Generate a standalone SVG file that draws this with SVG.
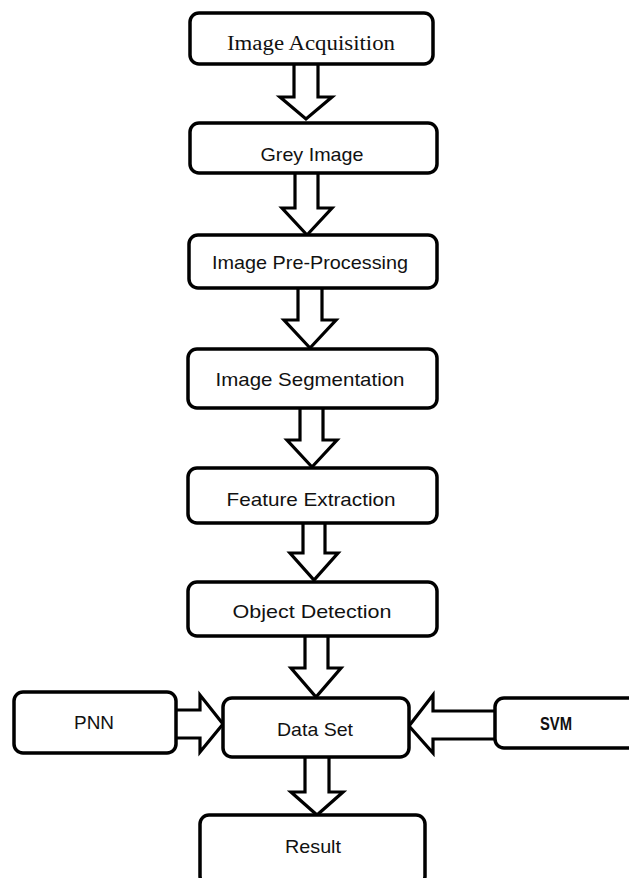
<svg xmlns="http://www.w3.org/2000/svg" width="629" height="878" viewBox="0 0 629 878">
<style>
.box{fill:#fff;stroke:#000;stroke-width:3.5}
.arr{fill:#fff;stroke:#000;stroke-width:3.2;stroke-linejoin:miter}
text{font-family:"Liberation Sans",Arial,sans-serif;font-size:19px;fill:#111;text-anchor:middle}
.serif{font-family:"Liberation Serif","Times New Roman",serif;font-size:20px}
.b{font-weight:bold}
</style>
<rect width="629" height="878" fill="#fff"/>
<g id="connectors">
<path class="arr" d="M294,64 V97 H280 L306,119 L332,97 H318 V64"/>
<path class="arr" d="M295,173 V208 H282 L307,235 L332,208 H318 V173"/>
<path class="arr" d="M298,288 V320 H284 L310,348 L336,320 H322 V288"/>
<path class="arr" d="M300,408 V440 H287 L312,467 L337,440 H323 V408"/>
<path class="arr" d="M303,523 V553 H290 L314,580 L338,553 H325 V523"/>
<path class="arr" d="M305,636 V668 H291 L316,697 L341,668 H328 V636"/>
<path class="arr" d="M305,757 V792 H291 L317,815 L343,792 H329 V757"/>
<path class="arr" d="M176,710 H200 V695 L223,724 L200,752 V738 H176"/>
<path class="arr" d="M495,711 H433 V695 L409,726 L433,753 V739 H495"/>
</g>
<g id="n1"><rect class="box" x="190" y="13" width="243" height="51" rx="9"/><text class="serif" x="311" y="50" textLength="168" lengthAdjust="spacingAndGlyphs">Image Acquisition</text></g>
<g id="n2"><rect class="box" x="190" y="123" width="247" height="50" rx="9"/><text x="312" y="161" textLength="103" lengthAdjust="spacingAndGlyphs">Grey Image</text></g>
<g id="n3"><rect class="box" x="189" y="235" width="248" height="53" rx="9"/><text x="310" y="269" textLength="196" lengthAdjust="spacingAndGlyphs">Image Pre-Processing</text></g>
<g id="n4"><rect class="box" x="188" y="349" width="249" height="59" rx="9"/><text x="310" y="386" textLength="189" lengthAdjust="spacingAndGlyphs">Image Segmentation</text></g>
<g id="n5"><rect class="box" x="188" y="468" width="249" height="55" rx="9"/><text x="311" y="506" textLength="169" lengthAdjust="spacingAndGlyphs">Feature Extraction</text></g>
<g id="n6"><rect class="box" x="188" y="582" width="249" height="54" rx="9"/><text x="312" y="618" textLength="159" lengthAdjust="spacingAndGlyphs">Object Detection</text></g>
<g id="n7"><rect class="box" x="14" y="692" width="162" height="61" rx="9"/><text x="94" y="729" textLength="40" lengthAdjust="spacingAndGlyphs">PNN</text></g>
<g id="n8"><rect class="box" x="223" y="698" width="186" height="59" rx="9"/><text x="315" y="736" textLength="76" lengthAdjust="spacingAndGlyphs">Data Set</text></g>
<g id="n9"><rect class="box" x="495" y="698" width="145" height="50" rx="9"/><text class="b" x="556" y="730" textLength="32" lengthAdjust="spacingAndGlyphs">SVM</text></g>
<g id="n10"><rect class="box" x="200" y="815" width="225" height="70" rx="9"/><text x="313" y="853" textLength="56" lengthAdjust="spacingAndGlyphs">Result</text></g>
</svg>
